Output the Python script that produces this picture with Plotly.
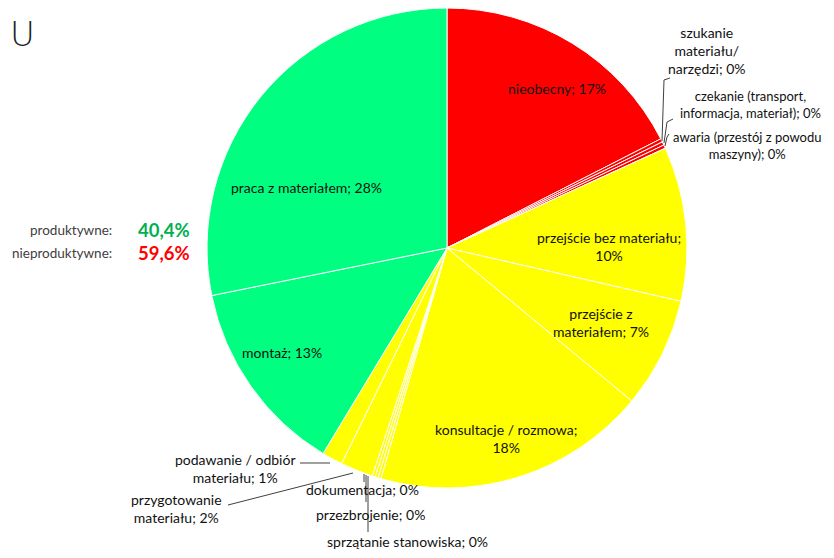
import plotly.graph_objects as go

# page body has an 8px margin, so the figure is drawn at (8, 8)
OFF = 8
W, H = 834 - 2 * OFF, 558 - 2 * OFF

categories = [
    "nieobecny",
    "szukanie materiału/ narzędzi",
    "czekanie (transport, informacja, materiał)",
    "awaria (przestój z powodu maszyny)",
    "przejście bez materiału",
    "przejście z materiałem",
    "konsultacje / rozmowa",
    "sprzątanie stanowiska",
    "przezbrojenie",
    "dokumentacja",
    "przygotowanie materiału",
    "podawanie / odbiór materiału",
    "montaż",
    "praca z materiałem",
]
values = [17.5, 0.23, 0.23, 0.23, 10.4, 7.45, 18.45, 0.2, 0.2, 0.2, 2.2, 1.4, 13.2, 28.2]
slice_colors = ["#FF0000"] * 4 + ["#FFFF00"] * 8 + ["#00FF80"] * 2

label_texts = [
    "nieobecny; {p}",
    "szukanie<br>materiału/<br>narzędzi; {p}",
    "czekanie (transport,<br>informacja, materiał); {p}",
    "awaria (przestój z powodu<br>maszyny); {p}",
    "przejście bez materiału;<br>{p}",
    "przejście z<br>materiałem; {p}",
    "konsultacje / rozmowa;<br>{p}",
    "sprzątanie stanowiska; {p}",
    "przezbrojenie; {p}",
    "dokumentacja; {p}",
    "przygotowanie<br>materiału; {p}",
    "podawanie / odbiór<br>materiału; {p}",
    "montaż; {p}",
    "praca z materiałem; {p}",
]
summary_labels = ["produktywne:", "nieproduktywne:"]
summary_values = ["40,4%", "59,6%"]
summary_colors = ["#00B050", "#FF0000"]

total = sum(values)
pcts = [f"{round(v / total * 100)}%" for v in values]


def px(x, y):
    return (x - OFF) / W, 1 - (y - OFF) / H


def clamp(v):
    return min(1.0, max(0.0, v))


cx, cy, r = 447, 248, 240
x0, y1 = px(cx - r, cy - r)
x1, y0 = px(cx + r, cy + r)
fig = go.Figure(go.Pie(
    labels=categories,
    values=values,
    sort=False,
    direction="clockwise",
    rotation=0,
    marker=dict(colors=slice_colors, line=dict(color="white", width=1)),
    textinfo="none",
    hoverinfo="label+percent",
    showlegend=False,
    domain=dict(x=[clamp(x0), clamp(x1)], y=[clamp(y0), clamp(y1)]),
))

label_pos = [
    (557, 88), (707, 50), (750, 104), (747, 145), (609, 246), (601, 322),
    (506, 438), (407, 541), (370, 514), (362, 490), (176, 508), (235, 468),
    (282, 352), (306, 187),
]
label_sizes = [14, 14, 13, 13, 14, 14, 14, 14, 14, 14, 14, 14, 14, 14]
annotations = []
for t, p, (x, y), fs in zip(label_texts, pcts, label_pos, label_sizes):
    ax, ay = px(x, y)
    annotations.append(dict(
        x=ax, y=ay, xref="paper", yref="paper", showarrow=False,
        text=t.format(p=p), align="center", xanchor="center", yanchor="middle",
        font=dict(family="Lato", size=fs, color="#111111"),
    ))

for i, (lab, val, col) in enumerate(zip(summary_labels, summary_values, summary_colors)):
    y = 230 + i * 23
    ax, ay = px(114, y)
    annotations.append(dict(x=ax, y=ay, xref="paper", yref="paper", showarrow=False,
                            text=lab, xanchor="right", yanchor="middle",
                            font=dict(family="Lato", size=13.5, color="#404040")))
    ax, ay = px(136, y)
    annotations.append(dict(x=ax, y=ay, xref="paper", yref="paper", showarrow=False,
                            text=f"<b>{val}</b>", xanchor="left", yanchor="middle",
                            font=dict(family="Lato", size=18.5, color=col)))

ax, ay = px(8, 34)
annotations.append(dict(x=ax, y=ay, xref="paper", yref="paper", showarrow=False,
                        text="U", xanchor="left", yanchor="middle",
                        font=dict(family="DejaVu Sans", size=34, color="#222222", weight=200)))

leaders = [
    [(662, 141), (664, 80), (670, 78)],
    [(664, 143), (667, 122), (673, 119)],
    [(665, 146), (667, 137), (669, 134)],
    [(330, 463), (300, 463)],
    [(353, 473), (228, 505)],
    [(366, 475), (366, 502)],
    [(368, 476), (368, 532)],
    [(364, 474), (364, 482)],
]
shapes = []
for pts in leaders:
    path = ""
    for k, (x, y) in enumerate(pts):
        qx, qy = px(x, y)
        path += ("M" if k == 0 else "L") + f"{qx},{qy} "
    shapes.append(dict(type="path", xref="paper", yref="paper", path=path.strip(),
                       line=dict(color="#404040", width=1)))

fig.update_layout(
    width=W, height=H,
    margin=dict(l=0, r=0, t=0, b=0),
    paper_bgcolor="white", plot_bgcolor="white",
    annotations=annotations, shapes=shapes,
)
fig.write_html("out.html")
